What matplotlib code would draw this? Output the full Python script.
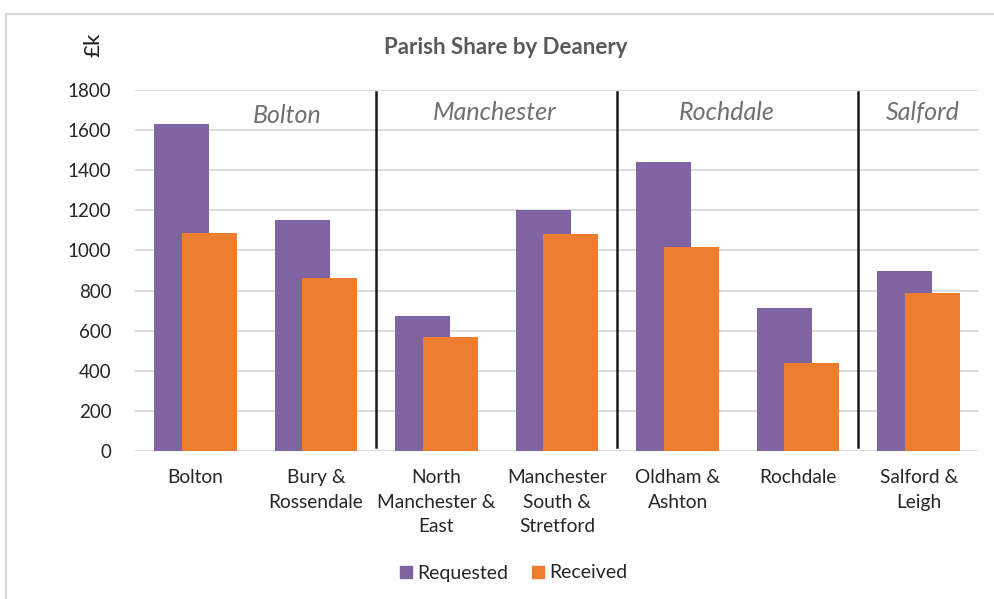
import matplotlib.pyplot as plt
from matplotlib.lines import Line2D
import numpy as np

plt.rcParams['font.family'] = ['Lato', 'DejaVu Sans']

categories = ['Bolton', 'Bury &\nRossendale', 'North\nManchester &\nEast',
              'Manchester\nSouth &\nStretford', 'Oldham &\nAshton', 'Rochdale',
              'Salford &\nLeigh']
requested = [1632, 1152, 673, 1201, 1439, 714, 896]
received = [1085, 864, 568, 1082, 1018, 439, 786]
deaneries = ['Bolton', 'Manchester', 'Rochdale', 'Salford']
deanery_pos = [0.76, 2.48, 4.41, 6.03]
deanery_y = [1675, 1690, 1690, 1690]
dividers = [1.5, 3.5, 5.5]

purple = '#8064A2'
orange = '#ED7D31'

fig = plt.figure(figsize=(9.94, 5.99), dpi=100)
ax = fig.add_axes([135 / 994, 1 - 451 / 599, 844 / 994, 361 / 599])

x = np.arange(len(categories))
w = 0.456
ax.bar(x - w / 4, requested, w, color=purple, label='Requested', zorder=2)
ax.bar(x + w / 4, received, w, color=orange, label='Received', zorder=3)

for d in dividers:
    ax.plot([d, d], [20, 1790], color='#1a1a1a', lw=1.8, zorder=4)

for name, px, py in zip(deaneries, deanery_pos, deanery_y):
    ax.text(px, py, name, ha='center', va='center', fontsize=18,
            style='italic', color='#707070')

ax.set_xlim(-0.5, 6.5)
ax.set_ylim(0, 1800)
ax.set_yticks(range(0, 1801, 200))
ax.set_xticks(x)
ax.set_xticklabels(categories, fontsize=13.8, color='#262626', linespacing=1.55)
ax.tick_params(axis='y', labelsize=13.5, labelcolor='#262626', length=0, pad=17)
ax.tick_params(axis='x', length=0, pad=13)
ax.grid(axis='y', color='#D9D9D9', lw=1.3, zorder=0)
ax.set_axisbelow(True)
for s in ax.spines.values():
    s.set_visible(False)

fig.text(506 / 994, 1 - 47 / 599, 'Parish Share by Deanery', ha='center',
         va='center', fontsize=16, fontweight='bold', color='#595959')
fig.text(93 / 994, 1 - 45 / 599, '£k', ha='center', va='center',
         fontsize=16, rotation=90, color='#1a1a1a')

handles = [Line2D([], [], marker='s', ls='', color=purple, markersize=8),
           Line2D([], [], marker='s', ls='', color=orange, markersize=8)]
fig.legend(handles, ['Requested', 'Received'], loc='center',
           bbox_to_anchor=(512 / 994, 1 - 573 / 599), ncol=2, frameon=False,
           fontsize=14, handletextpad=0.1, columnspacing=1.0, handlelength=1.0,
           labelcolor='#262626')

# chart frame (clipped on right and bottom)
fig.add_artist(Line2D([6 / 994, 1], [1 - 13.5 / 599] * 2, color='#D9D9D9', lw=1.5))
fig.add_artist(Line2D([6 / 994] * 2, [0, 1 - 13.5 / 599], color='#D9D9D9', lw=1.5))

plt.savefig('out.png')
